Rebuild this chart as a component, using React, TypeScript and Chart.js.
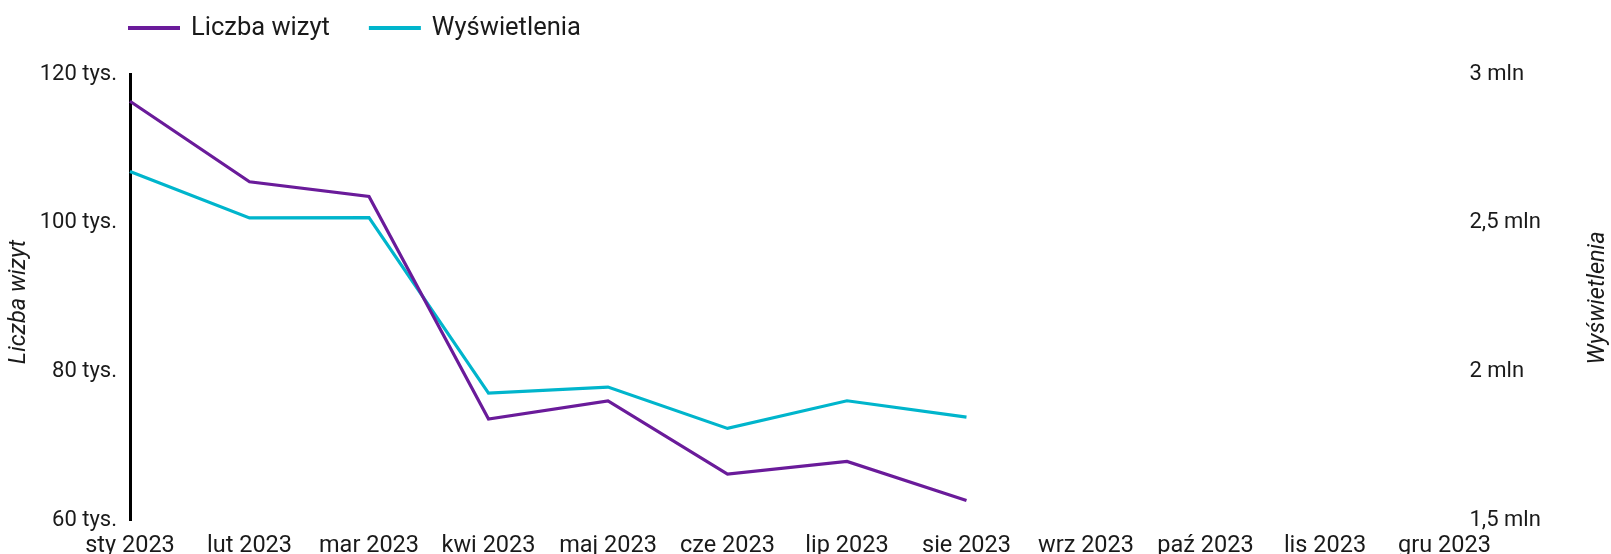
import React, { useEffect, useRef } from "react";
import { Chart, registerables } from "chart.js";

Chart.register(...registerables);

const months = [
  "sty 2023", "lut 2023", "mar 2023", "kwi 2023", "maj 2023", "cze 2023",
  "lip 2023", "sie 2023", "wrz 2023", "paź 2023", "lis 2023", "gru 2023",
];
const visits = [116340, 105500, 103520, 73590, 76030, 66160, 67870, 62610, null, null, null, null];
const views = [2672000, 2516000, 2517000, 1927000, 1947000, 1808000, 1901000, 1846000, null, null, null, null];

const seriesNames = ["Liczba wizyt", "Wyświetlenia"];
const seriesColors = ["#6a1b9a", "#00b5cc"];
const leftAxisTitle = "Liczba wizyt";
const rightAxisTitle = "Wyświetlenia";

const FONT = "Roboto";
const TEXT = "#1a1a1a";

const overlayPlugin = {
  id: "overlay",
  afterDraw(chart: any) {
    const ctx = chart.ctx;
    const area = chart.chartArea;
    ctx.save();
    // legend
    ctx.font = `25.5px ${FONT}`;
    ctx.textBaseline = "middle";
    ctx.textAlign = "left";
    let x = area.left - 2;
    const y = 28;
    seriesNames.forEach((name, i) => {
      ctx.fillStyle = seriesColors[i];
      ctx.fillRect(x, y - 2, 52, 4);
      x += 52 + 11;
      ctx.fillStyle = TEXT;
      ctx.fillText(name, x, y + 1);
      x += ctx.measureText(name).width + 39;
    });
    ctx.font = `italic 23.5px ${FONT}`;
    ctx.textAlign = "center";
    ctx.textBaseline = "middle";
    ctx.fillStyle = TEXT;
    // left axis title
    ctx.save();
    ctx.translate(19, 302);
    ctx.rotate(-Math.PI / 2);
    ctx.fillText(leftAxisTitle, 0, 0);
    ctx.restore();
    // right axis title, reading bottom to top
    ctx.save();
    ctx.translate(1598, 298);
    ctx.rotate(-Math.PI / 2);
    ctx.fillText(rightAxisTitle, 0, 0);
    ctx.restore();
    ctx.restore();
  },
};

export default function App() {
  const ref = useRef<HTMLCanvasElement | null>(null);
  useEffect(() => {
    if (!ref.current) return;
    const chart = new Chart(ref.current, {
      type: "line",
      data: {
        labels: months,
        datasets: [
          {
            label: seriesNames[0],
            data: visits,
            borderColor: seriesColors[0],
            backgroundColor: seriesColors[0],
            borderWidth: 3.2,
            pointRadius: 0,
            yAxisID: "y",
            tension: 0,
          },
          {
            label: seriesNames[1],
            data: views,
            borderColor: seriesColors[1],
            backgroundColor: seriesColors[1],
            borderWidth: 3.2,
            pointRadius: 0,
            yAxisID: "y1",
            tension: 0,
          },
        ],
      },
      options: {
        animation: false,
        responsive: true,
        maintainAspectRatio: false,
        layout: { padding: { top: 74, left: 0, right: 0, bottom: 0 } },
        plugins: {
          legend: { display: false },
          tooltip: { enabled: false },
        },
        scales: {
          x: {
            grid: { display: false, drawTicks: false },
            border: { display: false },
            ticks: {
              padding: 11.9,
              autoSkip: false,
              maxRotation: 0,
              color: TEXT,
              font: { family: FONT, size: 23.5 },
            },
            afterFit: (s: any) => {
              s.height = 34;
            },
          },
          y: {
            position: "left",
            min: 60000,
            max: 120000,
            grid: { display: false, drawTicks: true, tickLength: 10 },
            border: { display: true, color: "#000", width: 3 },
            ticks: {
              stepSize: 20000,
              padding: 3,
              color: TEXT,
              font: { family: FONT, size: 22 },
              callback: (v: any) => `${Number(v) / 1000} tys.`,
            },
            afterFit: (s: any) => {
              s.width = 130;
            },
          },
          y1: {
            position: "right",
            min: 1500000,
            max: 3000000,
            grid: { display: false, drawTicks: true, tickLength: 22 },
            border: { display: false },
            ticks: {
              stepSize: 500000,
              padding: 3,
              color: TEXT,
              font: { family: FONT, size: 22 },
              callback: (v: any) => `${String(Number(v) / 1e6).replace(".", ",")} mln`,
            },
            afterFit: (s: any) => {
              s.width = 166.5;
            },
          },
        },
      },
      plugins: [overlayPlugin],
    });
    return () => chart.destroy();
  }, []);
  return (
    <div style={{ position: "fixed", left: 0, top: 0, width: "100vw", height: "100vh" }}>
      <canvas ref={ref} style={{ display: "block" }} />
    </div>
  );
}
